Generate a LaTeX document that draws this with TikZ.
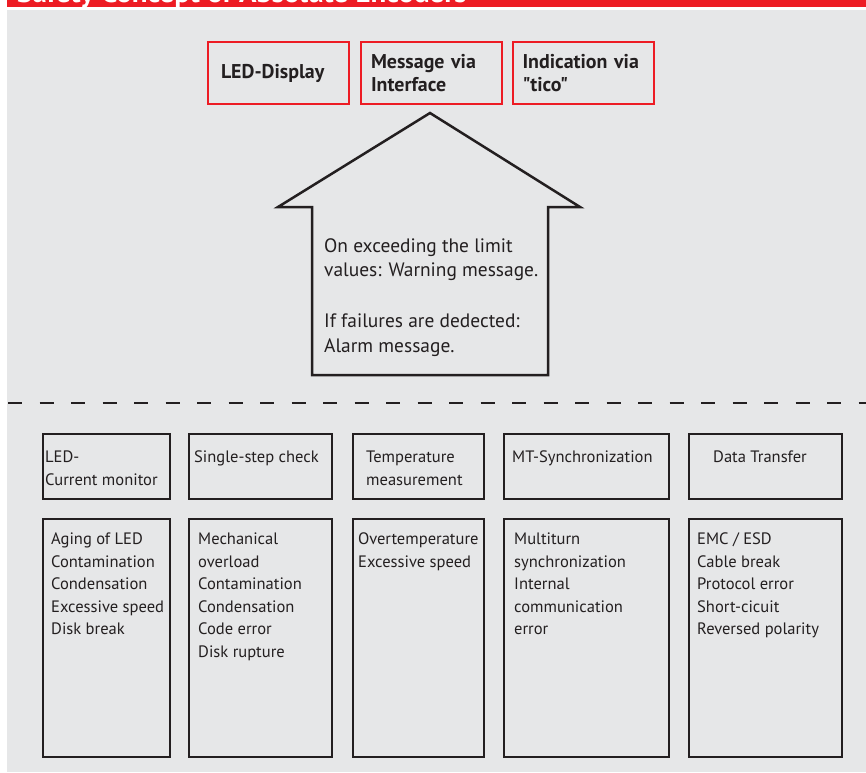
\documentclass[tikz,border=0pt]{standalone}
\usepackage{fontspec}
\setmainfont{PT Sans}[Ligatures=TeXOff]
\usetikzlibrary{positioning}
\definecolor{panelgray}{HTML}{E6E7E8}
\definecolor{signalred}{HTML}{ED1C24}
\definecolor{inkgray}{HTML}{231F20}
\tikzset{
  outbox/.style={draw=signalred, line width=2bp, minimum width=141bp,
    minimum height=62bp, inner sep=10bp, align=left, text width=121bp,
    font=\fontsize{20}{23}\selectfont\bfseries, text=inkgray},
  chkbox/.style={draw=inkgray, line width=2bp, inner sep=0pt},
  chktext/.style={anchor=north west, inner sep=0pt, align=left,
    font=\fontsize{16.6}{22.7}\selectfont, text=inkgray},
}
\begin{document}
\begin{tikzpicture}[x=1bp, y=-1bp]
  \useasboundingbox (0,0) rectangle (866,773);
  % background and title band
  \fill[panelgray] (7,10) rectangle (866,772);
  \fill[signalred] (7,0) rectangle (866,7);
  \begin{scope}
    \clip (7,0) rectangle (866,7);
    \node[anchor=base west, inner sep=0pt, text=white,
      font=\fontsize{29}{29}\selectfont\bfseries] (title) at (17,3)
      {Safety Concept of Absolute Encoders};
  \end{scope}
  % signalling outputs
  \node[outbox] (led) at (278.5,73) {\hspace*{3bp}LED-Display};
  \node[outbox] (iface) at (431.5,73) {Message via\\Interface};
  \node[outbox] (tico) at (583,73) {Indication via\\"tico"};
  % house arrow
  \draw[inkgray, line width=2.5bp, line join=miter]
    (430,113) -- (580,207) -- (548,207) -- (548,375) -- (312,375)
    -- (312,207) -- (278,207) -- cycle;
  \node[anchor=north west, inner sep=0pt, align=left, text=inkgray,
    font=\fontsize{19.5}{25}\selectfont] (note) at (324,238)
    {On exceeding the limit\\values: Warning message.\\[26bp]
     If failures are dedected:\\Alarm message.};
  % separator
  \draw[inkgray, line width=2.5bp, dash pattern=on 14bp off 17.5bp]
    (8,403) -- (866,403);
  % monitoring columns
  \foreach \xl/\xr/\nm in {42/169/ledmon, 188/332/step, 352/483/temp,
      503/669/sync, 688/842/data}
  {
    \node[chkbox, minimum width={\xr-\xl}, minimum height=65bp,
      anchor=north west] (\nm-hd) at (\xl,433) {};
    \node[chkbox, minimum width={\xr-\xl}, minimum height=238bp,
      anchor=north west] (\nm-bd) at (\xl,517.5) {};
  }
  \node[chktext] (ledmon-hdt) at ([shift={(3bp,-18bp)}]ledmon-hd.north west) {LED-\\Current monitor};
  \node[chktext] (step-hdt) at ([shift={(6bp,-18bp)}]step-hd.north west) {Single-step check};
  \node[chktext] (temp-hdt) at ([shift={(14bp,-18bp)}]temp-hd.north west) {Temperature\\measurement};
  \node[chktext] (sync-hdt) at ([shift={(9bp,-18bp)}]sync-hd.north west) {MT-Synchronization};
  \node[chktext] (data-hdt) at ([shift={(25bp,-18bp)}]data-hd.north west) {Data Transfer};
  \node[chktext] (ledmon-bdt) at ([shift={(9bp,-15bp)}]ledmon-bd.north west) {Aging of LED\\Contamination\\Condensation\\Excessive speed\\Disk break};
  \node[chktext] (step-bdt) at ([shift={(10bp,-15bp)}]step-bd.north west) {Mechanical\\overload\\Contamination\\Condensation\\Code error\\Disk rupture};
  \node[chktext] (temp-bdt) at ([shift={(6bp,-15bp)}]temp-bd.north west) {Overtemperature\\Excessive speed};
  \node[chktext] (sync-bdt) at ([shift={(11bp,-15bp)}]sync-bd.north west) {Multiturn\\synchronization\\Internal\\communication\\error};
  \node[chktext] (data-bdt) at ([shift={(9bp,-15bp)}]data-bd.north west) {EMC / ESD\\Cable break\\Protocol error\\Short-cicuit\\Reversed polarity};
\end{tikzpicture}
\end{document}
